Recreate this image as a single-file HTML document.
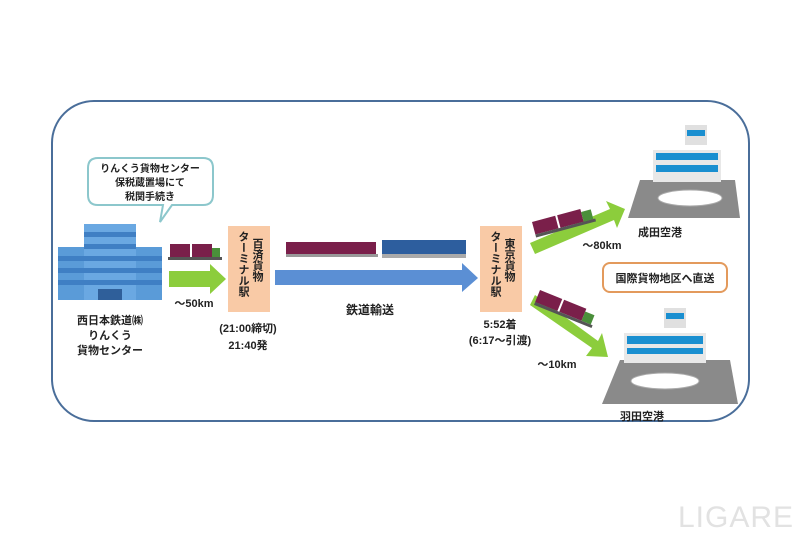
<!DOCTYPE html>
<html><head><meta charset="utf-8"><style>
html,body{margin:0;padding:0;background:#fff;}
svg text{font-family:"Liberation Sans","Noto Sans CJK JP",sans-serif;font-weight:bold;fill:#222;}
.v{position:absolute;writing-mode:vertical-rl;font-family:"Liberation Sans","Noto Sans CJK JP",sans-serif;font-weight:bold;font-size:11px;line-height:13px;color:#222;}
</style></head><body>
<div style="position:relative;width:800px;height:533px;">
<svg width="800" height="533" viewBox="0 0 800 533" xmlns="http://www.w3.org/2000/svg" style="position:absolute;left:0;top:0">
<rect x="52" y="101" width="697" height="320" rx="42" fill="#fff" stroke="#4a6e9a" stroke-width="2"/>
<!-- bubble -->
<path d="M98 158 H203 Q213 158 213 168 V195 Q213 205 203 205 H172 L160 222 L163 205 H98 Q88 205 88 195 V168 Q88 158 98 158Z" fill="#fff" stroke="#8cc7cc" stroke-width="2"/>
<text x="150" y="172" font-size="10" text-anchor="middle">りんくう貨物センター</text>
<text x="150" y="186" font-size="10" text-anchor="middle">保税蔵置場にて</text>
<text x="150" y="200" font-size="10" text-anchor="middle">税関手続き</text>
<!-- building -->
<rect x="58" y="247" width="104" height="53" fill="#5a9bd8"/>
<rect x="84" y="224" width="52" height="76" fill="#6aa8e2"/>
<g fill="#3f7fc4"><rect x="58" y="256" width="104" height="5"/><rect x="58" y="268" width="104" height="5"/><rect x="58" y="280" width="104" height="5"/><rect x="84" y="232" width="52" height="5"/><rect x="84" y="244" width="52" height="5"/></g>
<rect x="98" y="289" width="24" height="11" fill="#2f5f9a"/>
<text x="110" y="324" font-size="11" text-anchor="middle">西日本鉄道㈱</text>
<text x="110" y="339" font-size="11" text-anchor="middle">りんくう</text>
<text x="110" y="354" font-size="11" text-anchor="middle">貨物センター</text>
<!-- truck left -->
<rect x="170" y="244" width="20" height="13" fill="#7a1f4a"/><rect x="192" y="244" width="20" height="13" fill="#7a1f4a"/>
<rect x="212" y="248" width="8" height="9" fill="#4a8f3a"/><rect x="168" y="257" width="54" height="3" fill="#555"/>
<!-- green arrow 1 -->
<polygon points="169,271 210,271 210,264 226,279 210,294 210,287 169,287" fill="#8ccd3c"/>
<text x="194" y="307" font-size="11" text-anchor="middle">〜50km</text>
<rect x="228" y="226" width="42" height="86" fill="#f9caa6"/>
<text x="248" y="332" font-size="11" text-anchor="middle">(21:00締切)</text>
<text x="248" y="349" font-size="11" text-anchor="middle">21:40発</text>
<!-- train -->
<rect x="286" y="242" width="90" height="12" fill="#7a1f4a"/><rect x="286" y="254" width="92" height="3" fill="#999"/>
<rect x="382" y="240" width="84" height="14" fill="#2d5e9e"/><rect x="382" y="254" width="84" height="4" fill="#aaa"/>
<!-- blue arrow -->
<polygon points="275,270 462,270 462,263 478,278 462,292 462,285 275,285" fill="#5b8fd4"/>
<text x="370" y="314" font-size="12" text-anchor="middle">鉄道輸送</text>
<rect x="480" y="226" width="42" height="86" fill="#f9caa6"/>
<text x="500" y="328" font-size="11" text-anchor="middle">5:52着</text>
<text x="500" y="344" font-size="11" text-anchor="middle">(6:17〜引渡)</text>
<!-- diagonal arrows -->
<polygon points="530,243 610,209 606,201 625,209 617,228 614,220 535,254" fill="#8ccd3c"/>
<polygon points="535,295 598,341 602,333 608,357 586,356 592,348 530,305" fill="#8ccd3c"/>
<!-- trucks diag -->
<g transform="translate(532,222) rotate(-15)"><rect x="0" y="0" width="24" height="13" fill="#7a1f4a"/><rect x="26" y="0" width="24" height="13" fill="#7a1f4a"/><rect x="50" y="3" width="10" height="10" fill="#4a8f3a"/><rect x="0" y="13" width="62" height="3" fill="#555"/></g>
<g transform="translate(540,290) rotate(22)"><rect x="0" y="0" width="24" height="13" fill="#7a1f4a"/><rect x="26" y="0" width="24" height="13" fill="#7a1f4a"/><rect x="50" y="3" width="10" height="10" fill="#4a8f3a"/><rect x="0" y="13" width="62" height="3" fill="#555"/></g>
<text x="602" y="249" font-size="11" text-anchor="middle">〜80km</text>
<text x="557" y="368" font-size="11" text-anchor="middle">〜10km</text>
<rect x="603" y="263" width="124" height="29" rx="7" fill="#fff" stroke="#e39a5c" stroke-width="2"/>
<text x="665" y="282" font-size="11" text-anchor="middle">国際貨物地区へ直送</text>
<!-- Narita -->
<polygon points="640,180 735,180 740,218 628,218" fill="#8a8a8a"/>
<rect x="653" y="150" width="68" height="32" fill="#e8e8e8"/>
<rect x="656" y="153" width="62" height="7" fill="#1a8fd0"/><rect x="656" y="165" width="62" height="7" fill="#1a8fd0"/>
<rect x="685" y="125" width="22" height="20" fill="#e0e0e0"/><rect x="687" y="130" width="18" height="6" fill="#1a8fd0"/>
<ellipse cx="690" cy="198" rx="32" ry="8" fill="#fff" stroke="#aaa"/>
<text x="660" y="236" font-size="11" text-anchor="middle">成田空港</text>
<!-- Haneda -->
<polygon points="620,360 730,360 738,404 602,404" fill="#8a8a8a"/>
<rect x="624" y="333" width="82" height="30" fill="#e8e8e8"/>
<rect x="627" y="336" width="76" height="8" fill="#1a8fd0"/><rect x="627" y="348" width="76" height="6" fill="#1a8fd0"/>
<rect x="664" y="308" width="22" height="20" fill="#e0e0e0"/><rect x="666" y="313" width="18" height="6" fill="#1a8fd0"/>
<ellipse cx="665" cy="381" rx="34" ry="8" fill="#fff" stroke="#aaa"/>
<text x="642" y="420" font-size="11" text-anchor="middle">羽田空港</text>
<text x="736" y="527" font-size="30" text-anchor="middle" style="fill:#e2e2e2;font-weight:normal;letter-spacing:1px">LIGARE</text>
</svg>
<div class="v" style="left:250px;top:238px;">百済貨物</div>
<div class="v" style="left:236px;top:231px;">ターミナル駅</div>
<div class="v" style="left:502px;top:238px;">東京貨物</div>
<div class="v" style="left:488px;top:231px;">ターミナル駅</div>
</div>
</body></html>
